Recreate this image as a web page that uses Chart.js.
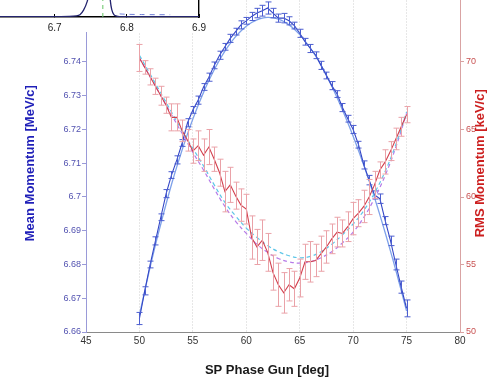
<!DOCTYPE html>
<html><head><meta charset="utf-8">
<script src="https://cdn.jsdelivr.net/npm/chart.js@4"></script>
<style>
html,body{margin:0;padding:0;background:#fff;overflow:hidden;width:491px;height:382px;}
#wrap{position:relative;width:491px;height:382px;overflow:hidden;background:#fff;}
#c1{position:absolute;left:0;top:-40px;}
#c2{position:absolute;left:-40px;top:-60px;background:#fff;}
</style></head><body>
<div id="wrap">
<canvas id="c1" width="491" height="422"></canvas>
<canvas id="c2" width="254" height="92"></canvas>
</div>
<script>
// ---------- data ----------
const phase = [50,50.5,51,51.5,52,52.5,53,53.5,54,54.5,55,55.5,56,56.5,57,57.5,58,58.5,59,59.5,60,60.5,61,61.5,62,62.5,63,63.5,64,64.5,65,65.5,66,66.5,67,67.5,68,68.5,69,69.5,70,70.5,71,71.5,72,72.5,73,73.5,74,74.5,75];
const meanMomentum = [6.6640,6.6722,6.6800,6.6870,6.6940,6.7010,6.7065,6.7110,6.7160,6.7220,6.7258,6.7287,6.7326,6.7355,6.7390,6.7420,6.7445,6.7470,6.7490,6.7510,6.7522,6.7535,6.7545,6.7552,6.7560,6.7545,6.7530,6.7530,6.7522,6.7508,6.7485,6.7460,6.7440,6.7420,6.7390,6.7360,6.7330,6.7305,6.7265,6.7232,6.7200,6.7155,6.7095,6.7050,6.7006,6.6995,6.6930,6.6870,6.6800,6.6733,6.6670];
const meanError = [0.0018,0.0012,0.0010,0.0012,0.0010,0.0012,0.0010,0.0012,0.0010,0.0012,0.0010,0.0012,0.0010,0.0012,0.0010,0.0012,0.0010,0.0012,0.0010,0.0012,0.0010,0.0012,0.0014,0.0016,0.0018,0.0014,0.0012,0.0014,0.0012,0.0010,0.0012,0.0010,0.0012,0.0010,0.0012,0.0010,0.0012,0.0010,0.0012,0.0010,0.0012,0.0010,0.0012,0.0014,0.0012,0.0014,0.0012,0.0014,0.0016,0.0018,0.0025];
const meanFit = [6.6650,6.6722,6.6792,6.6858,6.6920,6.6980,6.7037,6.7090,6.7140,6.7187,6.7231,6.7272,6.7310,6.7345,6.7377,6.7406,6.7432,6.7455,6.7475,6.7492,6.7506,6.7517,6.7525,6.7530,6.7532,6.7531,6.7527,6.7520,6.7510,6.7497,6.7481,6.7462,6.7441,6.7417,6.7390,6.7360,6.7328,6.7294,6.7258,6.7220,6.7180,6.7138,6.7094,6.7047,6.6998,6.6947,6.6894,6.6839,6.6782,6.6723,6.6662];
const rmsMomentum = [70.3,69.6,68.9,68.2,67.5,66.8,65.9,65.9,64.9,64.2,63.4,63.8,63.1,63.7,62.8,61.8,60.4,60.9,60.1,59.4,59.1,57.0,56.3,56.8,55.9,54.4,53.5,52.9,53.5,53.2,54.0,55.2,55.2,55.3,55.8,56.3,56.9,57.4,57.3,57.8,58.4,58.8,59.3,60.0,60.9,62.0,62.6,63.4,64.3,65.2,66.1];
const rmsError = [1.0,0.5,0.6,0.6,0.7,0.6,1.0,1.0,0.8,0.8,0.9,1.1,1.2,1.3,0.9,1.0,1.5,1.3,1.0,1.2,1.1,1.6,1.3,1.5,1.4,1.3,1.6,1.5,1.2,1.3,1.4,1.3,1.5,1.2,1.3,1.2,1.1,1.1,1.0,1.1,1.2,1.0,1.2,1.3,1.0,0.6,0.9,0.7,0.8,0.7,0.6];
const fitPhase = [50,51,52,53,54,55,56,57,58,59,60,61,62,63,64,65,66,67,68,69,70,71,72,73,74,75];
const rmsFitA = [70.5,69.1,67.7,66.3,64.9,63.6,62.3,60.9,59.6,58.6,57.7,57.0,56.4,55.95,55.65,55.5,55.6,55.95,56.5,57.2,58.0,59.0,60.3,61.9,63.9,66.3];
const rmsFitB = [70.3,68.9,67.5,66.1,64.7,63.3,62.0,60.6,59.3,58.2,57.3,56.5,55.9,55.45,55.2,55.1,55.2,55.5,55.95,56.6,57.4,58.5,59.9,61.6,63.7,66.2];
const xTicks = [45,50,55,60,65,70,75,80];
const leftTicks = [6.66,6.67,6.68,6.69,6.7,6.71,6.72,6.73,6.74,6.75,6.76];
const leftTickLabels = ['6.66','6.67','6.68','6.69','6.7','6.71','6.72','6.73','6.74','6.75','6.76'];
const rightTicks = [50,55,60,65,70,75];
const xTitle = 'SP Phase Gun [deg]';
const leftTitle = 'Mean Momentum [MeV/c]';
const rightTitle = 'RMS Momentum [keV/c]';
// inset histogram
const insetX = [6.60,6.65,6.70,6.72,6.73,6.735,6.74,6.745,6.75,6.755,6.76,6.765,6.77,6.775,6.777,6.779,6.782,6.786,6.79,6.80,6.85,6.90];
const insetY = [0.5,0.5,0.6,0.8,1.5,3,9,20,40,62,78,82,75,45,22,10,3,1,0.6,0.5,0.4,0.3];
const insetFitX = [6.79,6.80,6.82,6.84,6.86];
const insetFitY = [4,3.5,3.2,3,3];
const insetMean = [6.7667];
const insetTicks = [6.6,6.7,6.8,6.9];
const insetTickLabels = ['6.6','6.7','6.8','6.9'];

// ---------- drawing ----------
const FONT = "'Liberation Sans', Arial, Helvetica, sans-serif";
Chart.defaults.font.family = FONT;

const errorBars = {
  id: 'errorBars',
  afterDatasetDraw(chart, args) {
    const ds = chart.data.datasets[args.index];
    if (!ds.errors) return;
    const ys = chart.scales[ds.yAxisID];
    const ctx = chart.ctx;
    ctx.save();
    ctx.strokeStyle = ds.errColor;
    ctx.lineWidth = 1;
    args.meta.data.forEach((pt, i) => {
      const v = ds.data[i].y, e = ds.errors[i];
      const x = Math.round(pt.x) + 0.5;
      const y1 = ys.getPixelForValue(v + e), y2 = ys.getPixelForValue(v - e);
      ctx.beginPath();
      ctx.moveTo(x, y1); ctx.lineTo(x, y2);
      ctx.moveTo(x - 3, y1); ctx.lineTo(x + 3, y1);
      ctx.moveTo(x - 3, y2); ctx.lineTo(x + 3, y2);
      ctx.stroke();
    });
    ctx.restore();
  }
};

const titlesPlugin = {
  id: 'titles',
  afterDraw(chart) {
    const ctx = chart.ctx, a = chart.chartArea;
    ctx.save();
    ctx.font = 'bold 13px ' + FONT;
    ctx.textAlign = 'center';
    ctx.textBaseline = 'middle';
    ctx.fillStyle = '#1a1a1a';
    ctx.fillText(xTitle, 267, 410);
    ctx.translate(480, (a.top + a.bottom) / 2);
    ctx.rotate(-Math.PI / 2);
    ctx.fillStyle = '#cc1f1f';
    ctx.fillText(rightTitle, 0, 0);
    ctx.restore();
  }
};

const pts = (xs, ys) => xs.map((x, i) => ({x: x, y: ys[i]}));

new Chart(document.getElementById('c1'), {
  type: 'line',
  data: {
    datasets: [
      {data: pts(phase, rmsMomentum), yAxisID: 'yR', borderColor: '#d2404e', borderWidth: 1.1, pointRadius: 0, tension: 0,
       errors: rmsError, errColor: '#eaa2a8'},
      {data: pts(fitPhase, rmsFitA), yAxisID: 'yR', borderColor: '#5ec6e8', borderWidth: 1.2, borderDash: [4, 3], pointRadius: 0, tension: 0.4},
      {data: pts(fitPhase, rmsFitB), yAxisID: 'yR', borderColor: '#b67ae8', borderWidth: 1.2, borderDash: [4, 3], pointRadius: 0, tension: 0.4},
      {data: pts(phase, meanMomentum), yAxisID: 'yL', borderColor: '#3346c6', borderWidth: 1.1, pointRadius: 0, tension: 0,
       errors: meanError, errColor: '#4c5ed0'},
      {data: pts(phase, meanFit), yAxisID: 'yL', borderColor: '#7fa2ea', borderWidth: 1.3, pointRadius: 0, tension: 0.4}
    ]
  },
  options: {
    responsive: false, animation: false, events: [],
    layout: {padding: {top: 34.5, left: 0, right: 0, bottom: 0}},
    plugins: {legend: {display: false}, tooltip: {enabled: false}},
    scales: {
      x: {
        type: 'linear', position: 'bottom', min: 45, max: 80,
        afterBuildTicks: s => { s.ticks = xTicks.map(v => ({value: v})); },
        afterFit: s => { s.height = 50; },
        ticks: {font: {size: 10}, color: '#333', padding: 3, maxRotation: 0, autoSkip: false},
        grid: {color: '#cfcfcf', lineWidth: 1, drawTicks: false},
        border: {color: '#8a8a8a', width: 1, dash: [1, 2]}
      },
      yL: {
        type: 'linear', position: 'left', min: 6.66, max: 6.76,
        afterBuildTicks: s => { s.ticks = leftTicks.map(v => ({value: v})); },
        afterFit: s => { s.width = 86; },
        ticks: {font: {size: 9}, color: '#5252b0', padding: 1, callback: (v, i) => leftTickLabels[i]},
        grid: {drawOnChartArea: false, drawTicks: true, tickLength: 4, color: '#9a9ad8'},
        border: {color: '#9a9ad8', width: 1},
        title: {display: true, text: leftTitle, color: '#1f1fb8', font: {size: 13, weight: 'bold'}, padding: {top: 22.2, bottom: 0}}
      },
      yR: {
        type: 'linear', position: 'right', min: 50, max: 75,
        afterBuildTicks: s => { s.ticks = rightTicks.map(v => ({value: v})); },
        afterFit: s => { s.width = 31; },
        ticks: {font: {size: 9}, color: '#c85252', padding: 2},
        grid: {drawOnChartArea: false, drawTicks: true, tickLength: 4, color: '#d9a3a3'},
        border: {color: '#d9a3a3', width: 1}
      }
    }
  },
  plugins: [errorBars, titlesPlugin]
});

new Chart(document.getElementById('c2'), {
  type: 'line',
  data: {
    datasets: [
      {data: pts(insetX, insetY), borderColor: '#24246e', borderWidth: 1.3, pointRadius: 0, tension: 0.3},
      {data: pts(insetFitX, insetFitY), borderColor: '#6f7fd8', borderWidth: 1, borderDash: [5, 5], pointRadius: 0, tension: 0.3},
      {data: [{x: insetMean[0], y: 0}, {x: insetMean[0], y: 100}], borderColor: '#66c466', borderWidth: 1, borderDash: [4, 4], pointRadius: 0}
    ]
  },
  options: {
    responsive: false, animation: false, events: [],
    layout: {padding: {top: 0, left: 22.5, right: 11, bottom: 0}},
    plugins: {legend: {display: false}, tooltip: {enabled: false}},
    scales: {
      x: {
        type: 'linear', position: 'bottom', min: 6.6, max: 6.9,
        afterBuildTicks: s => { s.ticks = insetTicks.map(v => ({value: v})); },
        afterFit: s => { s.height = 15; },
        ticks: {font: {size: 10}, color: '#222', padding: 8, maxRotation: 0, autoSkip: false, callback: (v, i) => insetTickLabels[i]},
        grid: {drawOnChartArea: false, drawTicks: true, tickLength: -3, color: '#000'},
        border: {color: '#000', width: 1.4}
      },
      y: {
        type: 'linear', position: 'right', min: 0, max: 100,
        afterFit: s => { s.width = 0; },
        ticks: {display: false},
        grid: {drawOnChartArea: false, drawTicks: false},
        border: {color: '#000', width: 1.4}
      }
    }
  }
});
</script>
</body></html>
